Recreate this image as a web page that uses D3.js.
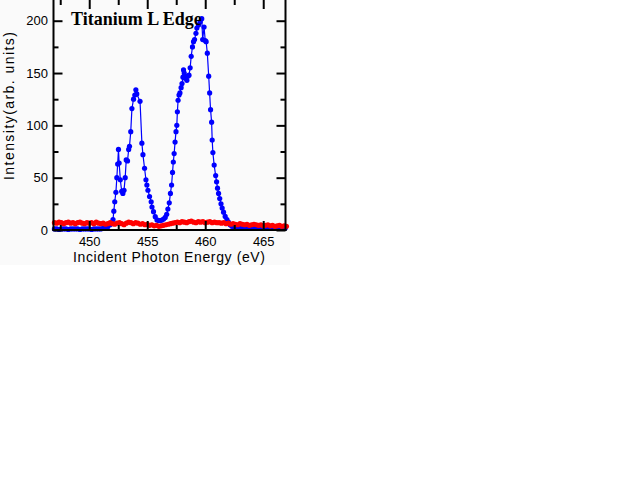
<!DOCTYPE html>
<html><head><meta charset="utf-8">
<script src="https://cdnjs.cloudflare.com/ajax/libs/d3/7.8.5/d3.min.js"></script>
<style>html,body{margin:0;padding:0;background:#fff;}svg{display:block;}</style>
</head><body>
<script>
const title = "Titanium L Edge";
const xTitle = "Incident Photon Energy (eV)";
const yTitle = "Intensity(arb. units)";
const xMajorTicks = [450, 455, 460, 465];
const xMinorTicks = [447.5, 452.5, 457.5, 462.5];
const yMajorTicks = [0, 50, 100, 150, 200];
const yMinorTicks = [25, 75, 125, 175];

const blueX = [447.0,447.2,447.4,447.6,447.8,448.0,448.2,448.4,448.6,448.8,449.0,449.2,449.4,449.6,449.8,450.0,450.2,450.4,450.6,450.8,451.0,
451.2,451.4,451.6,451.8,451.95,452.05,452.12,452.2,452.3,452.38,452.45,452.52,452.58,452.68,452.8,452.9,453.0,453.1,453.19,453.3,453.4,453.47,453.58,453.68,453.82,453.93,454.02,454.1,454.38,
454.54,454.63,454.77,454.89,454.97,455.06,455.2,455.34,455.41,455.54,455.69,455.84,455.98,456.12,456.27,456.41,456.55,456.68,456.78,456.9,457.0,457.1,457.18,457.25,457.32,457.4,457.48,457.55,457.6,457.66,457.74,457.82,457.92,458.0,
458.08,458.13,458.19,458.27,458.35,458.42,458.5,458.6,458.7,458.79,458.9,458.99,459.08,459.2,459.28,459.42,459.57,459.7,459.78,459.9,460.0,460.08,460.18,460.3,460.38,460.46,460.55,460.6,460.66,460.77,460.9,460.98,461.06,461.15,461.25,461.36,461.46,461.58,461.72,461.87,462.0,462.15,462.3,462.5,462.7,462.9,
463.1,463.3,463.5,463.7,463.9,464.1,464.3,464.5,464.7,464.9,465.1,465.3,465.5,465.7,465.9,466.1,466.3,466.5,466.7,466.9];
const blueY = [1,1,0.5,1,1,1,0.5,1,1,1,1,0.5,1,1,1,1,0.5,1,1,1,1,
1.5,2,3,5,7,10,18,27,36,50,63,77,64,48,37,35,38,50,67,66,77,80,94,116,125,129,134,130,123,
83,72,59,48,43,38,32,27,22,17.5,12.7,9.6,9,9,9.5,10.5,12,15,20,26,35,43,55,65,73,84,94,100,113,124,129,131,136,140,
146,153,150,145,146,143,147,148,155,166,175,180,182,188,193,196,199,202,182,194,181,180,169,147,131,115,103,86,74,62,52,46,40,35,30,25,21,17,13,10,7.5,5,3.5,2.5,2,2,
2,1.5,2,2,1.5,2,2,2.5,2,1.5,2,2,2.5,2,2,1.5,2.5,2,2.5,2];

const redX = [447.0,447.2,447.4,447.6,447.8,448.0,448.2,448.4,448.6,448.8,449.0,449.2,449.4,449.6,449.8,450.0,450.2,450.4,450.6,450.8,451.0,
451.2,451.4,451.6,451.8,452.0,452.2,452.4,452.6,452.8,453.0,453.2,453.4,453.6,453.8,454.0,454.2,454.4,454.6,454.8,455.0,
455.2,455.4,455.6,455.8,456.0,456.2,456.4,456.6,456.8,457.0,
457.2,457.4,457.6,457.8,458.0,458.2,458.4,458.6,458.8,459.0,459.2,459.4,459.6,459.8,460.0,460.2,460.4,460.6,460.8,461.0,
461.2,461.4,461.6,461.8,462.0,462.2,462.4,462.6,462.8,463.0,463.2,463.4,463.6,463.8,464.0,464.2,464.4,464.6,464.8,465.0,465.2,465.4,465.6,465.8,466.0,466.2,466.4,466.6,466.8,467.0];
const redY = [7,6.5,7.5,7,6,7,7.5,6.5,7,6,7,7.5,6.5,6,7,6.5,7,6,7.5,6.5,6,
6.5,5.5,6,7,6,5.5,6.5,7,6,5,6.5,7.5,7,6,7,6.5,5.5,6,5,5.5,
4.5,5,4,4.5,3.5,4,4.5,5,5.5,6,
6.5,7,7.5,7,8,7.5,7,8,8.5,7.5,7,8,7.5,8,7,7.5,8,7,7.5,7,
7,6.5,7,6,6.5,5.5,6,5.5,5,6,5.5,5,5.5,4.5,5,5.5,5,4.5,5,4,4.5,5,4,4.5,3.5,4,4.5,3.5,4,3.5];

const W = 640, H = 480;
const svg = d3.select("body").append("svg").attr("width", W).attr("height", H);
svg.append("rect").attr("x",0).attr("y",0).attr("width",290).attr("height",265).attr("fill","#fafafa");

const x = d3.scaleLinear().domain([446.92, 466.92]).range([53.5, 285.5]);
const y = d3.scaleLinear().domain([0, 219.8]).range([230, 0]);

const blue = blueX.map((v,i)=>[v, blueY[i]]);
const red = redX.map((v,i)=>[v, redY[i]]);
const line = d3.line().x(d=>x(d[0])).y(d=>y(d[1]));

svg.append("path").datum(blue).attr("d", line).attr("fill","none").attr("stroke","#0000ff").attr("stroke-width",1.2);
svg.append("g").selectAll("circle").data(blue).join("circle")
  .attr("cx",d=>x(d[0])).attr("cy",d=>y(d[1])).attr("r",2.6).attr("fill","#0000ff");
svg.append("path").datum(red).attr("d", line).attr("fill","none").attr("stroke","#ff0000").attr("stroke-width",1.2);
svg.append("g").selectAll("circle").data(red).join("circle")
  .attr("cx",d=>x(d[0])).attr("cy",d=>y(d[1])).attr("r",2.6).attr("fill","#ff0000");

function style(g, showLabels){
  g.select(".domain").remove();
  g.selectAll(".tick line").attr("stroke","#000").attr("stroke-width",2);
  g.selectAll(".tick text").attr("fill","#000").style("font-family","'Liberation Sans', Arial, sans-serif").style("font-size","13px");
  if(!showLabels) g.selectAll(".tick text").remove();
}
// bottom
svg.append("g").attr("transform","translate(0,230)").call(d3.axisBottom(x).tickValues(xMajorTicks).tickSize(-9).tickSizeOuter(0).tickPadding(7).tickFormat(d3.format("d"))).call(g=>style(g,true));
svg.append("g").attr("transform","translate(0,230)").call(d3.axisBottom(x).tickValues(xMinorTicks).tickSize(-5).tickSizeOuter(0)).call(g=>style(g,false));
// top
svg.append("g").attr("transform","translate(0,0)").call(d3.axisTop(x).tickValues(xMajorTicks).tickSize(-9).tickSizeOuter(0)).call(g=>style(g,false));
svg.append("g").attr("transform","translate(0,0)").call(d3.axisTop(x).tickValues(xMinorTicks).tickSize(-5).tickSizeOuter(0)).call(g=>style(g,false));
// left
svg.append("g").attr("transform","translate(53.5,0)").call(d3.axisLeft(y).tickValues(yMajorTicks).tickSize(-9).tickSizeOuter(0).tickPadding(5.5)).call(g=>style(g,true));
svg.append("g").attr("transform","translate(53.5,0)").call(d3.axisLeft(y).tickValues(yMinorTicks).tickSize(-5).tickSizeOuter(0)).call(g=>style(g,false));
// right
svg.append("g").attr("transform","translate(285.5,0)").call(d3.axisRight(y).tickValues(yMajorTicks).tickSize(-9).tickSizeOuter(0)).call(g=>style(g,false));
svg.append("g").attr("transform","translate(285.5,0)").call(d3.axisRight(y).tickValues(yMinorTicks).tickSize(-5).tickSizeOuter(0)).call(g=>style(g,false));

// frame lines
const fr = svg.append("g").attr("stroke","#000").attr("stroke-width",2);
fr.append("line").attr("x1",53.5).attr("x2",53.5).attr("y1",0).attr("y2",231);
fr.append("line").attr("x1",285.5).attr("x2",285.5).attr("y1",0).attr("y2",231);
fr.append("line").attr("x1",52.5).attr("x2",286.5).attr("y1",230).attr("y2",230);

svg.append("text").attr("x",71).attr("y",25).text(title)
  .style("font-family","'Liberation Serif','Times New Roman',serif").style("font-weight","bold").style("font-size","18px").attr("fill","#000");
svg.append("text").attr("x",169).attr("y",262).attr("text-anchor","middle").text(xTitle)
  .attr("textLength",192).attr("lengthAdjust","spacing")
  .style("font-family","'Liberation Sans', Arial, sans-serif").style("font-size","14px").attr("fill","#000");
svg.append("text").attr("transform","translate(14,106) rotate(-90)").attr("text-anchor","middle").text(yTitle)
  .attr("textLength",148).attr("lengthAdjust","spacing")
  .style("font-family","'Liberation Sans', Arial, sans-serif").style("font-size","14px").attr("fill","#000");
</script>
</body></html>
